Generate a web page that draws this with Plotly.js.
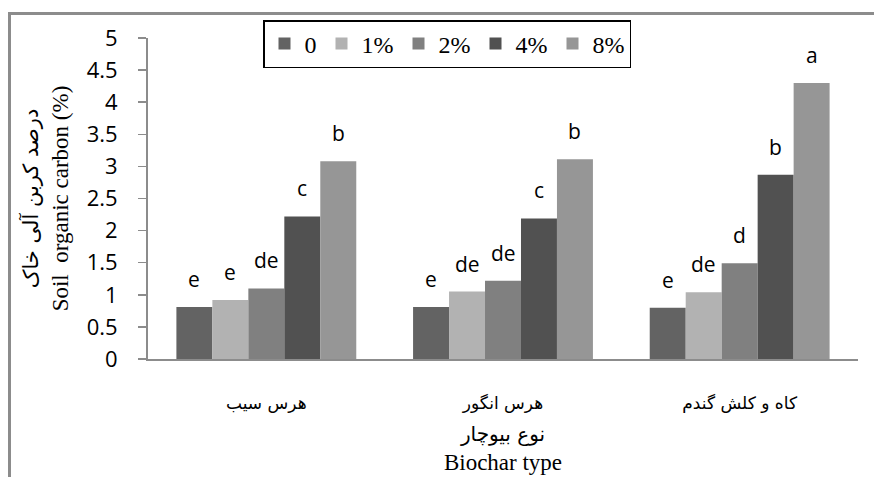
<!DOCTYPE html>
<html>
<head>
<meta charset="utf-8">
<script src="https://cdn.plot.ly/plotly-3.0.1.min.js"></script>
<style>
  html, body { margin: 0; padding: 0; background: #fff; }
  #wrap { position: relative; width: 874px; height: 477px; overflow: hidden; }
  #frame { position: absolute; left: 8px; top: 12px; width: 900px; height: 500px;
           border-top: 3px solid #8c8c8c; border-left: 3px solid #8c8c8c; pointer-events: none; }
  #chart { position: absolute; left: 0; top: 0; width: 874px; height: 477px; }
</style>
</head>
<body>
<div id="wrap">
  <div id="frame"></div>
  <div id="chart"></div>
</div>
<script>
// Categories (biochar type)
const categories = ["هرس سیب", "هرس انگور", "کاه و کلش گندم"];
// Series names (biochar rate)
const seriesNames = ["0", "1%", "2%", "4%", "8%"];
// Values per series, in category order
const vals0 = [0.81, 0.81, 0.80];
const vals1 = [0.92, 1.05, 1.04];
const vals2 = [1.10, 1.22, 1.49];
const vals4 = [2.22, 2.19, 2.87];
const vals8 = [3.08, 3.11, 4.30];
// Significance letters per series
const letters0 = ["e", "e", "e"];
const letters1 = ["e", "de", "de"];
const letters2 = ["de", "de", "d"];
const letters4 = ["c", "c", "b"];
const letters8 = ["b", "b", "a"];

const seriesVals = [vals0, vals1, vals2, vals4, vals8];
const seriesLetters = [letters0, letters1, letters2, letters4, letters8];
const colors = ["#636363", "#b2b2b2", "#808080", "#515151", "#969696"];

const W = 874, H = 477;
const margin = {l: 148, r: 16, t: 38, b: 118};
const bargap = 0.24;

const traces = seriesNames.map((name, i) => ({
  type: "bar",
  name: name,
  x: categories,
  y: seriesVals[i],
  marker: {color: colors[i], line: {width: 0}},
  hoverinfo: "skip"
}));

const plotW = W - margin.l - margin.r;
const catW = plotW / categories.length;
const barW = catW * (1 - bargap) / seriesNames.length;
const annotations = [];
seriesNames.forEach((name, i) => {
  categories.forEach((c, j) => {
    annotations.push({
      x: c, y: seriesVals[i][j], xref: "x", yref: "y",
      text: seriesLetters[i][j], showarrow: false,
      xanchor: "center", yanchor: "bottom",
      xshift: (i - (seriesNames.length - 1) / 2) * barW,
      yshift: 12,
      font: {family: "'Open Sans', Lato, sans-serif", size: 21, color: "#000"}
    });
  });
});

const serif = "'Liberation Serif', 'Times New Roman', serif";

const layout = {
  width: W, height: H,
  margin: margin,
  paper_bgcolor: "rgba(0,0,0,0)",
  plot_bgcolor: "rgba(0,0,0,0)",
  barmode: "group",
  bargap: bargap,
  bargroupgap: 0,
  showlegend: true,
  legend: {
    orientation: "h",
    x: (263 - margin.l) / plotW, y: 1.056,
    xanchor: "left", yanchor: "top",
    bordercolor: "#000", borderwidth: 1.5,
    bgcolor: "#fff",
    font: {family: serif, size: 24, color: "#000"},
    traceorder: "normal"
  },
  xaxis: {
    type: "category",
    showline: true, linecolor: "#8c8c8c", linewidth: 2,
    ticks: "", showgrid: false, zeroline: false,
    ticklabelstandoff: 28,
    tickfont: {family: "'DejaVu Sans', sans-serif", size: 17, color: "#000"},
    title: {
      text: "<span style=\"font-family:'DejaVu Sans';font-size:20px\">نوع بیوچار</span><br>Biochar type",
      font: {family: serif, size: 23, color: "#000"},
      standoff: 12
    }
  },
  yaxis: {
    range: [0, 5], dtick: 0.5, tick0: 0,
    showline: true, linecolor: "#8c8c8c", linewidth: 2,
    ticks: "outside", ticklen: 8, tickcolor: "#8c8c8c", tickwidth: 1.5,
    ticklabelstandoff: 16,
    showgrid: false, zeroline: false,
    tickfont: {family: "'Open Sans', Lato, sans-serif", size: 22, color: "#000"},
    title: {
      text: "<span style=\"font-family:'DejaVu Sans';font-size:21px\">درصد کربن آلی خاک</span><br>Soil  organic carbon (%)",
      font: {family: serif, size: 23, color: "#000"},
      standoff: 12
    }
  },
  annotations: annotations
};

Plotly.newPlot("chart", traces, layout, {displayModeBar: false, staticPlot: true});
</script>
</body>
</html>
